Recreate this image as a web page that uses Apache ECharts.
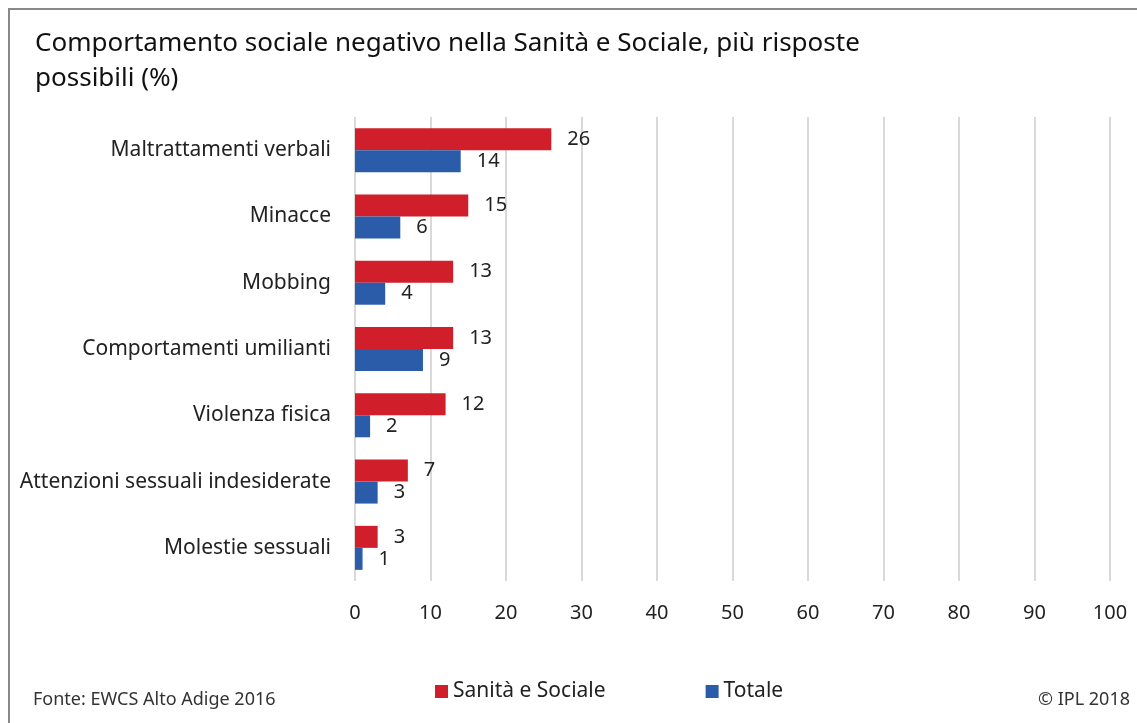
<!DOCTYPE html>
<html>
<head>
<meta charset="utf-8">
<script src="https://cdn.jsdelivr.net/npm/echarts@6/dist/echarts.min.js"></script>
<style>
  html, body { margin: 0; padding: 0; background: #fff; }
  #chart { width: 1137px; height: 723px; }
</style>
</head>
<body>
<div id="chart"></div>
<script>
// categorie e valori (%)
const categories = [
    'Maltrattamenti verbali',
    'Minacce',
    'Mobbing',
    'Comportamenti umilianti',
    'Violenza fisica',
    'Attenzioni sessuali indesiderate',
    'Molestie sessuali'
];
const seriesNames = ['Sanità e Sociale', 'Totale'];
const sanitaValues = [26, 15, 13, 13, 12, 7, 3];
const totaleValues = [14, 6, 4, 9, 2, 3, 1];
const xTicks = [0, 10, 20, 30, 40, 50, 60, 70, 80, 90, 100];

const colors = ['#D01F2B', '#2A5CAA'];
const font = '"Source Sans Pro", "Noto Sans", sans-serif';

const chart = echarts.init(document.getElementById('chart'));

function barSeries(name, data, color) {
    return {
        name: name,
        type: 'bar',
        data: data,
        barWidth: 22,
        barGap: '0%',
        itemStyle: { color: color },
        label: {
            show: true,
            position: 'right',
            distance: 16,
            color: '#222',
            fontFamily: font,
            fontSize: 20
        }
    };
}

const option = {
    backgroundColor: '#fff',
    animation: false,
    title: {
        text: 'Comportamento sociale negativo nella Sanità e Sociale, più risposte\npossibili (%)',
        left: 30,
        top: 21,
        textStyle: {
            fontFamily: font,
            fontSize: 26,
            fontWeight: 'normal',
            color: '#111',
            lineHeight: 35
        }
    },
    legend: {
        data: seriesNames,
        left: 430,
        top: 676,
        itemWidth: 13,
        itemHeight: 13,
        itemGap: 100,
        icon: 'rect',
        textStyle: { fontFamily: font, fontSize: 21, color: '#222' }
    },
    grid: {
        left: 355,
        right: 27,
        top: 117,
        bottom: 142
    },
    xAxis: {
        type: 'value',
        min: xTicks[0],
        max: xTicks[xTicks.length - 1],
        interval: 10,
        axisLine: { show: false },
        axisTick: { show: false },
        axisLabel: {
            color: '#222',
            fontFamily: font,
            fontSize: 20,
            margin: 22
        },
        splitLine: { lineStyle: { color: '#d9d9d9', width: 2 } }
    },
    yAxis: {
        type: 'category',
        data: categories,
        inverse: true,
        axisLine: { show: false },
        axisTick: { show: false },
        axisLabel: {
            color: '#222',
            fontFamily: font,
            fontSize: 21,
            margin: 24
        }
    },
    series: [
        barSeries(seriesNames[0], sanitaValues, colors[0]),
        barSeries(seriesNames[1], totaleValues, colors[1])
    ],
    graphic: [
        {
            type: 'polyline',
            shape: { points: [[9, 723], [9, 9], [1137, 9]] },
            style: { stroke: '#888', lineWidth: 2, fill: null }
        },
        {
            type: 'text',
            left: 33,
            top: 691,
            style: { text: 'Fonte: EWCS Alto Adige 2016', font: '18px ' + font, fill: '#333' }
        },
        {
            type: 'text',
            right: 7,
            top: 691,
            style: { text: '© IPL 2018', font: '18px ' + font, fill: '#333' }
        }
    ]
};

chart.setOption(option);
</script>
</body>
</html>
